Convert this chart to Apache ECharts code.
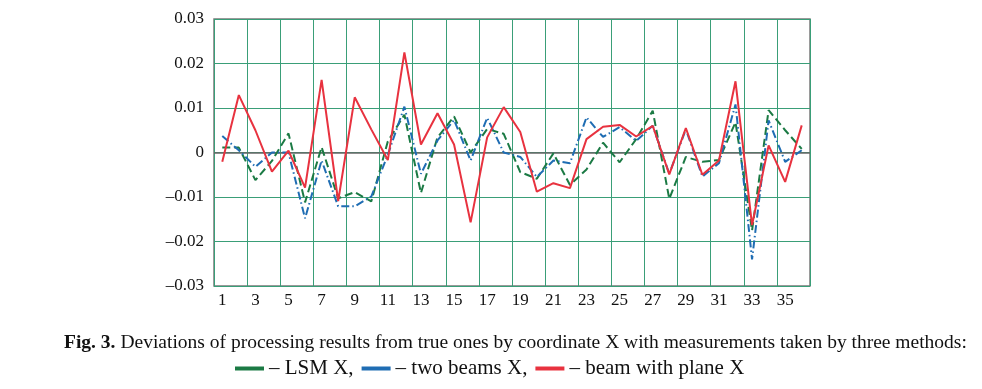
<!DOCTYPE html>
<html>
<head>
<meta charset="utf-8">
<script src="https://cdn.jsdelivr.net/npm/echarts@6/dist/echarts.min.js"></script>
<style>html,body{margin:0;padding:0;background:#fff;}#c{width:982px;height:389px;}</style>
</head>
<body>
<div id="c"></div>
<script>
const categories = ['1','2','3','4','5','6','7','8','9','10','11','12','13','14','15','16','17','18','19','20','21','22','23','24','25','26','27','28','29','30','31','32','33','34','35','36'];
const lsmX = [0.0011,0.0011,-0.0062,-0.0019,0.0043,-0.0112,0.0012,-0.0103,-0.0089,-0.0110,0.0025,0.0085,-0.0091,0.0034,0.0081,0.0000,0.0053,0.0042,-0.0044,-0.0059,-0.0002,-0.0073,-0.0038,0.0022,-0.0022,0.0030,0.0094,-0.0104,-0.0010,-0.0021,-0.0017,0.0068,-0.0175,0.0095,0.0050,0.0008];
const twoBeamsX = [0.0037,0.0005,-0.0032,0.0000,0.0000,-0.0148,-0.0018,-0.0121,-0.0121,-0.0099,-0.0005,0.0103,-0.0048,0.0027,0.0073,-0.0018,0.0078,0.0000,-0.0010,-0.0055,-0.0018,-0.0024,0.0079,0.0035,0.0057,0.0026,0.0060,-0.0048,0.0052,-0.0054,-0.0024,0.0108,-0.0240,0.0072,-0.0021,0.0005];
const beamPlaneX = [-0.0021,0.0129,0.0050,-0.0043,0.0004,-0.0079,0.0163,-0.0109,0.0124,0.0052,-0.0017,0.0225,0.0018,0.0088,0.0018,-0.0157,0.0034,0.0102,0.0046,-0.0088,-0.0069,-0.0080,0.0030,0.0058,0.0062,0.0036,0.0060,-0.0049,0.0055,-0.0050,-0.0018,0.0160,-0.0163,0.0016,-0.0066,0.0061];
const seriesNames = ['LSM X', 'two beams X', 'beam with plane X'];
const captionBold = 'Fig. 3.';
const captionText = 'Deviations of processing results from true ones by coordinate X with measurements taken by three methods:';

const FONT = '"Liberation Serif", "Times New Roman", serif';
const GRID = '#3a9e78';
const chart = echarts.init(document.getElementById('c'), null, {renderer: 'canvas'});
chart.setOption({
  animation: false,
  backgroundColor: '#ffffff',
  title: {
    left: 59, top: 328,
    text: '{b|' + captionBold + '} {r|' + captionText + '}',
    textStyle: {
      fontWeight: 'normal',
      rich: {
        b: {fontFamily: FONT, fontSize: 19.5, fontWeight: 'bold', color: '#111'},
        r: {fontFamily: FONT, fontSize: 19.5, fontWeight: 'normal', color: '#111'}
      }
    }
  },
  legend: {
    left: 230, top: 353,
    icon: 'rect', itemWidth: 29, itemHeight: 4, itemGap: 8,
    textStyle: {fontFamily: FONT, fontSize: 21, color: '#111'},
    formatter: function (name) {
      return '– ' + name + (name === seriesNames[2] ? '' : ',');
    },
    data: seriesNames
  },
  grid: {left: 214, right: 172, top: 19, bottom: 103, show: true, borderColor: '#7a7a7a', borderWidth: 1.5, backgroundColor: 'transparent'},
  xAxis: {
    type: 'category', data: categories, boundaryGap: true,
    axisLine: {show: false}, axisTick: {show: false},
    axisLabel: {interval: 1, fontFamily: FONT, fontSize: 17, color: '#111', margin: 6},
    splitLine: {show: true, interval: 1, lineStyle: {color: GRID, width: 1}}
  },
  yAxis: {
    type: 'value', min: -0.03, max: 0.03, interval: 0.01,
    axisLine: {show: false}, axisTick: {show: false},
    axisLabel: {
      fontFamily: FONT, fontSize: 17, color: '#111', margin: 10,
      formatter: function (v) {
        if (Math.abs(v) < 1e-9) return '0';
        return (v < 0 ? '–' : '') + Math.abs(v).toFixed(2);
      }
    },
    splitLine: {show: true, lineStyle: {color: GRID, width: 1}}
  },
  series: [
    {name: seriesNames[0], type: 'line', data: lsmX, symbol: 'none', color: '#1b7a44',
     lineStyle: {width: 2, type: [8, 4]}, z: 3},
    {name: seriesNames[1], type: 'line', data: twoBeamsX, symbol: 'none', color: '#1f6db3',
     lineStyle: {width: 2, type: [8, 3, 1.5, 3]}, z: 4},
    {name: seriesNames[2], type: 'line', data: beamPlaneX, symbol: 'none', color: '#e8323f',
     lineStyle: {width: 2}, z: 5,
     markLine: {silent: true, symbol: 'none', label: {show: false},
       lineStyle: {color: '#666', width: 1.5, type: 'solid'}, data: [{yAxis: 0}], z: 2}}
  ]
});
</script>
</body>
</html>
